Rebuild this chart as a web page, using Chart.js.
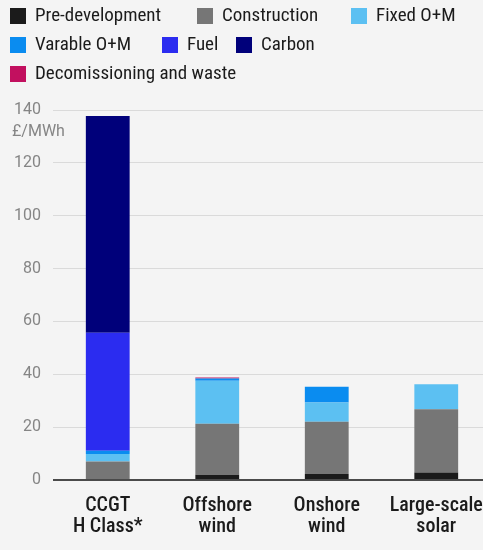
<!DOCTYPE html>
<html>
<head>
<meta charset="utf-8">
<script src="https://cdn.jsdelivr.net/npm/chart.js@4/dist/chart.umd.min.js"></script>
<style>
  html, body { margin: 0; padding: 0; background: #f4f4f4; overflow: hidden; }
  #wrap { position: relative; width: 483px; height: 550px; overflow: hidden; }
  #chart { position: absolute; left: 0; top: 0; }
  #legend { position: absolute; left: 0; top: 0; width: 483px; height: 95px;
            font-family: Roboto, sans-serif; font-stretch: condensed; font-weight: 450;
            font-size: 19px; color: #1b1b1b; }
  .item { position: absolute; display: flex; align-items: center; white-space: nowrap; height: 16px; line-height: 16px; }
  .box { width: 16px; height: 16px; margin-right: 9px; flex: none; }
  .item span.t { position: relative; top: -1px; }
</style>
</head>
<body>
<div id="wrap">
  <canvas id="chart" width="492" height="550"></canvas>
  <div id="legend"></div>
</div>
<script>
// Technology categories (two-line axis labels)
const categories = [['CCGT', 'H Class*'], ['Offshore', 'wind'], ['Onshore', 'wind'], ['Large-scale', 'solar']];

// Levelised cost components, £/MWh
const preDevelopment  = [0,    2.0,  2.3, 2.8];
const construction    = [7.0,  19.3, 19.7, 24.0];
const fixedOM         = [2.8,  16.3, 7.3, 9.4];
const variableOM      = [1.3,  0.8,  6.0, 0];
const fuel            = [44.6, 0,    0,   0];
const carbon          = [82.0, 0,    0,   0];
const decommissioning = [0,    0.4,  0,   0];

const seriesNames = ['Pre-development', 'Construction', 'Fixed O+M', 'Varable O+M', 'Fuel', 'Carbon', 'Decomissioning and waste'];
const seriesValues = [preDevelopment, construction, fixedOM, variableOM, fuel, carbon, decommissioning];
const seriesColors = ['#1b1b1b', '#767676', '#5cc0f2', '#0a8cf0', '#2b2cf0', '#00007a', '#c2105f'];

// Y axis ticks
const yTicks = [0, 20, 40, 60, 80, 100, 120, 140];
const unitLabel = '£/MWh';

// Legend slots (left offset, top offset) for each series
const legendSlots = [[10, 8], [197, 8], [351, 8], [10, 37], [162, 37], [236, 37], [10, 66]];
const legendEl = document.getElementById('legend');
seriesNames.forEach((name, i) => {
  const item = document.createElement('div');
  item.className = 'item';
  item.style.left = legendSlots[i][0] + 'px';
  item.style.top = legendSlots[i][1] + 'px';
  const box = document.createElement('span');
  box.className = 'box';
  box.style.background = seriesColors[i];
  const txt = document.createElement('span');
  txt.className = 't';
  txt.textContent = name;
  item.appendChild(box);
  item.appendChild(txt);
  legendEl.appendChild(item);
});

// Unit caption under the top tick of the value axis
const unitPlugin = {
  id: 'unitCaption',
  afterDraw(chart) {
    const y = chart.scales.y;
    const ctx = chart.ctx;
    ctx.save();
    ctx.font = '16px Roboto';
    ctx.fillStyle = '#858585';
    ctx.textAlign = 'left';
    ctx.textBaseline = 'middle';
    ctx.fillText(unitLabel, 12, y.getPixelForValue(yTicks[yTicks.length - 1]) + 22);
    ctx.restore();
  }
};

new Chart(document.getElementById('chart'), {
  type: 'bar',
  data: {
    labels: categories,
    datasets: seriesNames.map((name, i) => ({
      label: name,
      data: seriesValues[i],
      backgroundColor: seriesColors[i],
      borderWidth: 0,
      categoryPercentage: 1,
      barPercentage: 0.4
    }))
  },
  options: {
    responsive: false,
    animation: false,
    layout: { padding: { top: 110, right: 1, left: 0, bottom: 0 } },
    plugins: { legend: { display: false }, tooltip: { enabled: false } },
    scales: {
      x: {
        stacked: true,
        grid: { display: false },
        border: { display: false },
        ticks: {
          color: '#1b1b1b',
          font: { family: 'Roboto', size: 20, weight: '500 condensed', lineHeight: 1.04 },
          padding: 8,
          maxRotation: 0
        },
        afterFit(scale) { scale.height = 70; }
      },
      y: {
        stacked: true,
        min: 0,
        max: 140,
        afterBuildTicks(scale) { scale.ticks = yTicks.map(v => ({ value: v })); },
        grid: {
          drawTicks: false,
          color: c => (c.tick && c.tick.value === 0) ? '#4a4a4a' : '#dadada',
          lineWidth: c => (c.tick && c.tick.value === 0) ? 2 : 1
        },
        border: { display: false },
        ticks: { color: '#858585', font: { family: 'Roboto', size: 16 }, padding: 12 },
        afterFit(scale) { scale.width = 53; }
      }
    }
  },
  plugins: [unitPlugin]
});
</script>
</body>
</html>
